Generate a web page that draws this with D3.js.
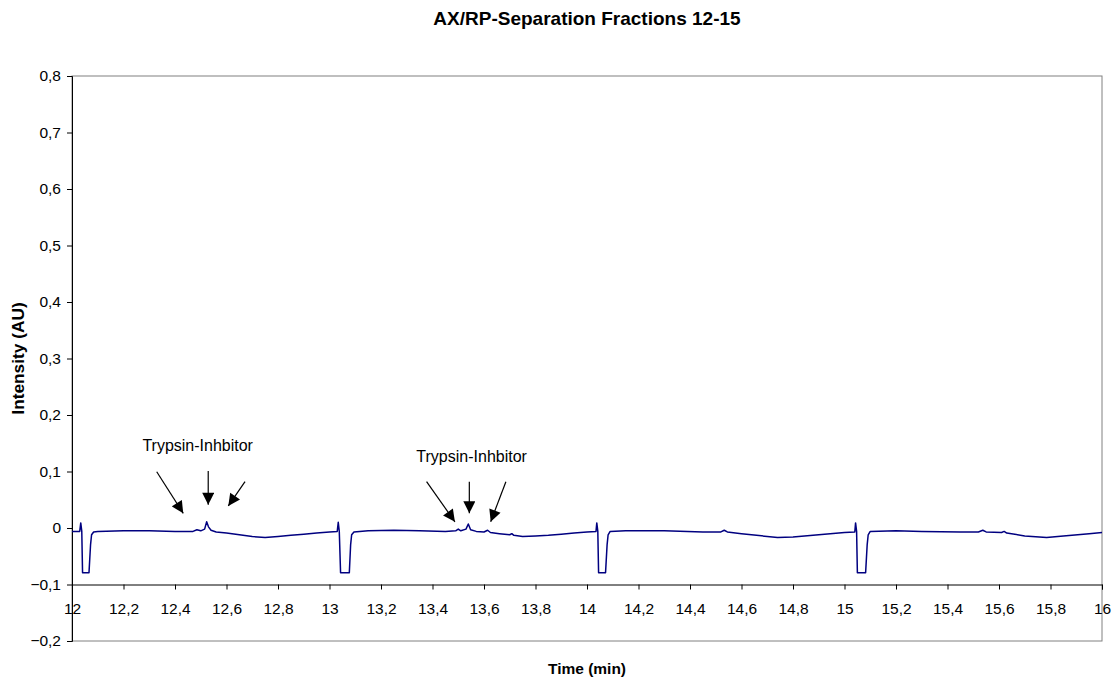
<!DOCTYPE html>
<html><head><meta charset="utf-8">
<script src="https://cdn.jsdelivr.net/npm/d3@7"></script>
<style>body{margin:0;background:#fff;} text{font-family:Arial,"Liberation Sans",sans-serif;}</style>
</head><body>
<svg id="chart" width="1119" height="679"></svg>
<script>
const title = "AX/RP-Separation Fractions 12-15";
const xTitle = "Time (min)";
const yTitle = "Intensity (AU)";
const xTicks = [12,12.2,12.4,12.6,12.8,13,13.2,13.4,13.6,13.8,14,14.2,14.4,14.6,14.8,15,15.2,15.4,15.6,15.8,16];
const yTicks = [-0.2,-0.1,0,0.1,0.2,0.3,0.4,0.5,0.6,0.7,0.8];

// chromatogram trace: time (min) and intensity (AU)
const times = [
 12.000,12.030,12.034,12.038,12.041,12.066,12.072,12.076,12.084,12.10,12.20,12.30,12.40,12.47,12.485,12.50,12.515,12.523,12.530,12.540,12.56,12.60,12.65,12.70,12.75,12.80,12.85,12.90,12.95,13.00,13.030,
 13.034,13.038,13.043,13.077,13.082,13.086,13.095,13.15,13.25,13.35,13.45,13.49,13.500,13.51,13.53,13.539,13.548,13.57,13.600,13.614,13.625,13.66,13.700,13.708,13.716,13.75,13.80,13.85,13.90,13.95,14.00,14.035,
 14.038,14.042,14.045,14.072,14.078,14.082,14.09,14.15,14.30,14.45,14.52,14.533,14.545,14.60,14.70,14.74,14.80,14.90,15.00,15.040,
 15.043,15.047,15.050,15.082,15.088,15.092,15.10,15.20,15.30,15.45,15.52,15.537,15.55,15.61,15.62,15.63,15.70,15.785,15.85,15.95,16.00];
const intensity = [
 -0.006,-0.006,0.009,-0.006,-0.079,-0.079,-0.030,-0.012,-0.007,-0.006,-0.005,-0.005,-0.006,-0.006,-0.003,-0.005,-0.002,0.011,0.002,-0.004,-0.007,-0.009,-0.012,-0.015,-0.017,-0.015,-0.013,-0.011,-0.009,-0.007,-0.006,
 0.010,-0.006,-0.079,-0.079,-0.030,-0.012,-0.007,-0.005,-0.004,-0.005,-0.006,-0.005,-0.002,-0.005,-0.002,0.007,-0.003,-0.006,-0.007,-0.004,-0.008,-0.010,-0.012,-0.010,-0.013,-0.015,-0.014,-0.013,-0.011,-0.009,-0.007,-0.006,
 0.009,-0.006,-0.079,-0.079,-0.030,-0.012,-0.006,-0.005,-0.005,-0.007,-0.007,-0.004,-0.007,-0.010,-0.015,-0.017,-0.016,-0.012,-0.008,-0.007,
 0.009,-0.006,-0.079,-0.079,-0.030,-0.012,-0.006,-0.005,-0.006,-0.007,-0.007,-0.004,-0.007,-0.008,-0.006,-0.009,-0.014,-0.017,-0.014,-0.010,-0.008];

// annotations (data units)
const labelText = ["Trypsin-Inhbitor","Trypsin-Inhbitor"];
const labelT = [12.488, 13.552];
const labelV = [0.137, 0.117];
const arrowFromT = [12.329,12.529,12.672, 13.377,13.543,13.685];
const arrowFromV = [0.0996,0.101,0.082, 0.082,0.082,0.082];
const arrowToT   = [12.432,12.529,12.607, 13.487,13.543,13.626];
const arrowToV   = [0.026,0.041,0.039, 0.011,0.026,0.011];

const W = 1119, H = 679;
const m = {left:72, right:W-1102, top:76, bottom:H-641};
const svg = d3.select("#chart");
const x = d3.scaleLinear().domain([12,16]).range([m.left, W-m.right]);
const y = d3.scaleLinear().domain([-0.2,0.8]).range([H-m.bottom, m.top]);
const fmt = d => d3.format("")(+d.toFixed(1)).replace(".", ",");

// frame
svg.append("rect").attr("x",x(12)).attr("y",y(0.8)).attr("width",x(16)-x(12)).attr("height",y(-0.2)-y(0.8))
  .attr("fill","none").attr("stroke","#808080").attr("stroke-width",1);

// y axis
const ya = svg.append("g").attr("transform",`translate(${x(12)},0)`)
  .call(d3.axisLeft(y).tickValues(yTicks).tickSize(5).tickPadding(6).tickFormat(fmt));
ya.select(".domain").attr("stroke","#000");
ya.selectAll("text").attr("font-size",15.5).attr("fill","#000");

// x axis at -0.1
const xa = svg.append("g").attr("transform",`translate(0,${y(-0.1)})`)
  .call(d3.axisBottom(x).tickValues(xTicks).tickSize(5).tickPadding(13).tickFormat(fmt));
xa.select(".domain").attr("stroke","#000");
xa.selectAll("text").attr("font-size",15.5).attr("fill","#000");

// trace
const pts = times.map((t,i)=>[t,intensity[i]]);
svg.append("path").datum(pts)
  .attr("d", d3.line().x(d=>x(d[0])).y(d=>y(d[1])))
  .attr("fill","none").attr("stroke","#000080").attr("stroke-width",1.5).attr("stroke-linejoin","round");

// arrow marker
svg.append("defs").append("marker").attr("id","ah").attr("viewBox","0 0 10 10")
  .attr("refX",10).attr("refY",5).attr("markerWidth",13).attr("markerHeight",12)
  .attr("markerUnits","userSpaceOnUse").attr("orient","auto")
  .append("path").attr("d","M0,0 L10,5 L0,10 Z").attr("fill","#000");

arrowFromT.forEach((t,i)=>{
  svg.append("line").attr("x1",x(t)).attr("y1",y(arrowFromV[i]))
    .attr("x2",x(arrowToT[i])).attr("y2",y(arrowToV[i]))
    .attr("stroke","#000").attr("stroke-width",1.2).attr("marker-end","url(#ah)");
});
labelText.forEach((s,i)=>{
  svg.append("text").attr("x",x(labelT[i])).attr("y",y(labelV[i])).attr("text-anchor","middle")
    .attr("font-size",16).attr("fill","#000").text(s);
});

// titles
svg.append("text").attr("x",(x(12)+x(16))/2).attr("y",25).attr("text-anchor","middle")
  .attr("font-size",19).attr("font-weight","bold").text(title);
svg.append("text").attr("x",(x(12)+x(16))/2).attr("y",674).attr("text-anchor","middle")
  .attr("font-size",15.5).attr("font-weight","bold").text(xTitle);
svg.append("text").attr("transform",`translate(24,${(y(0.8)+y(-0.2))/2}) rotate(-90)`).attr("text-anchor","middle")
  .attr("font-size",17.3).attr("font-weight","bold").text(yTitle);
</script>
</body></html>
